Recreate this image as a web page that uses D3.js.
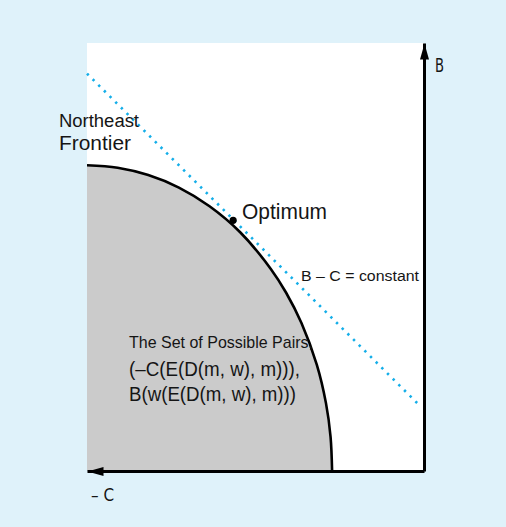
<!DOCTYPE html>
<html>
<head>
<meta charset="utf-8">
<script src="https://cdn.jsdelivr.net/npm/d3@7"></script>
<style>
  body { margin: 0; background: #dff2fa; }
  svg { display: block; }
  text { font-family: "Liberation Sans", Arial, sans-serif; fill: #151515; }
  .axislabel { font-family: "Liberation Sans Narrow", "DejaVu Sans Condensed", sans-serif; }
</style>
</head>
<body>
<div id="chart"></div>
<script>
// frontier of possible pairs (abstract units)
const frontierX = [0, 1, 2, 3, 4, 5, 6, 6.5, 7, 7.5, 7.8, 7.95, 8];
const frontierY = [10, 9.92, 9.68, 9.27, 8.66, 7.81, 6.61, 5.83, 4.84, 3.48, 2.22, 1.12, 0];

// the B - C = constant line and the optimum point
const isoX = [0, 10.8];
const isoY = [13.0, 2.2];
const optimum = [4.77, 8.2];

const xDomain = [0, 11];
const yDomain = [0, 14];

const pairLines = ["The Set of Possible Pairs,", "(\u2013C(E(D(m, w), m))),", "B(w(E(D(m, w), m)))"];

let width = 506, height = 527;
let margin = {top: 43, right: 82, bottom: 56, left: 87};

let svg = d3.select("#chart").append("svg")
    .attr("width", width)
    .attr("height", height);

let x = d3.scaleLinear().domain(xDomain).range([margin.left, width - margin.right]);
let y = d3.scaleLinear().domain(yDomain).range([height - margin.bottom, margin.top]);

let defs = svg.append("defs");
defs.append("marker")
    .attr("id", "arrow")
    .attr("markerUnits", "userSpaceOnUse")
    .attr("markerWidth", 17).attr("markerHeight", 10)
    .attr("refX", 16).attr("refY", 4.5)
    .attr("orient", "auto-start-reverse")
    .append("path")
    .attr("d", "M0,0L16,4.5L0,9Z")
    .attr("fill", "#000");

// white plot area
svg.append("rect")
    .attr("x", x(xDomain[0]))
    .attr("y", y(yDomain[1]))
    .attr("width", x(xDomain[1]) - x(xDomain[0]))
    .attr("height", y(yDomain[0]) - y(yDomain[1]))
    .attr("fill", "#fff");

let frontier = frontierX.map((d, i) => [d, frontierY[i]]);

let area = d3.area()
    .x(d => x(d[0]))
    .y0(y(0))
    .y1(d => y(d[1]))
    .curve(d3.curveCatmullRom.alpha(0.5));

svg.append("path")
    .datum(frontier)
    .attr("d", area)
    .attr("fill", "#cbcbcb");

let line = d3.line()
    .x(d => x(d[0]))
    .y(d => y(d[1]))
    .curve(d3.curveCatmullRom.alpha(0.5));

svg.append("path")
    .datum(frontier)
    .attr("d", line)
    .attr("fill", "none")
    .attr("stroke", "#000")
    .attr("stroke-width", 2.6);

// dotted iso line
svg.append("path")
    .datum(isoX.map((d, i) => [d, isoY[i]]))
    .attr("d", d3.line().x(d => x(d[0])).y(d => y(d[1])))
    .attr("fill", "none")
    .attr("stroke", "#14aee9")
    .attr("stroke-width", 2.6)
    .attr("stroke-dasharray", "2.4 5.6");

svg.append("circle")
    .attr("cx", x(optimum[0]))
    .attr("cy", y(optimum[1]))
    .attr("r", 3.6)
    .attr("fill", "#000");

// axes: no ticks, just arrows
let xAxis = svg.append("g")
    .attr("transform", "translate(0," + y(0) + ")")
    .call(d3.axisBottom(x).tickValues([]).tickSizeOuter(0));
xAxis.select(".domain")
    .attr("stroke-width", 3)
    .attr("marker-start", "url(#arrow)");

let yAxis = svg.append("g")
    .attr("transform", "translate(" + x(xDomain[1]) + ",0)")
    .call(d3.axisRight(y).tickValues([]).tickSizeOuter(0));
yAxis.select(".domain")
    .attr("stroke-width", 3)
    .attr("marker-end", "url(#arrow)");

// annotations
function label(txt, px, py, size, len, cls) {
    svg.append("text")
        .attr("class", cls || null)
        .attr("x", px).attr("y", py)
        .attr("textLength", len)
        .attr("lengthAdjust", "spacingAndGlyphs")
        .style("font-size", size + "px")
        .text(txt);
}

label("B", 435, 72, 20, 9, "axislabel");
label("\u2013 C", 91, 501, 17, 23, "axislabel");

label("Northeast", 59, 127, 18, 80);
label("Frontier", 59, 150, 20, 72);
label("Optimum", 242, 219, 22, 85);
label("B \u2013 C = constant", 301, 281, 15.5, 118);
label(pairLines[0], 129, 348, 17, 184);
label(pairLines[1], 129, 376, 20, 171);
label(pairLines[2], 129, 401, 20, 167);
</script>
</body>
</html>
